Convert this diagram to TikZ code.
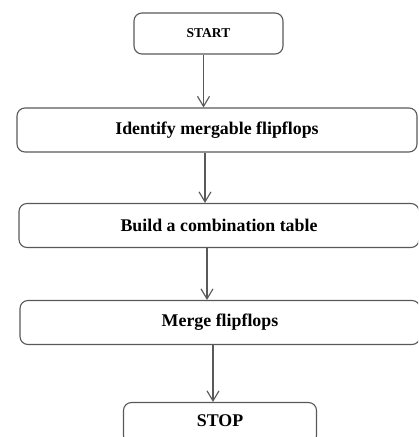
\documentclass[tikz,border=0pt]{standalone}
\usepackage{fontspec}
\setmainfont{Liberation Serif}
\usetikzlibrary{arrows.meta}
\begin{document}
\begin{tikzpicture}[
    node distance=2.4cm,
    terminal/.style={
        rectangle,
        rounded corners=0.2cm,
        draw=black!65,
        line width=0.8pt,
        minimum width=3.725cm,
        minimum height=1.025cm,
        align=center,
        font=\fontsize{9.6}{11}\selectfont\bfseries
    },
    process/.style={
        rectangle,
        rounded corners=0.2cm,
        draw=black!65,
        line width=0.8pt,
        minimum width=10cm,
        minimum height=1.1cm,
        align=center,
        font=\fontsize{12.7}{15}\selectfont\bfseries
    },
    arrow/.style={
        -{Straight Barb[length=0.25cm,width=0.3cm]},
        draw=black!65,
        line width=0.8pt
    }
]
\useasboundingbox (0,0) rectangle (10.45,10.925);
\clip (0,0) rectangle (10.45,10.925);

% Steps of the flow
\node [terminal] (start) at (5.2125,10.0875) {START};
\node [process, below of=start, node distance=2.4125cm, xshift=0.2125cm] (idf) {Identify mergable flipflops};
\node [process, below of=idf, node distance=2.3875cm, xshift=0.05cm] (build) {Build a combination table};
\node [process, below of=build, node distance=2.425cm, xshift=0.025cm] (merge) {Merge flipflops};
\node [terminal, below of=merge, node distance=2.5125cm, minimum width=4.825cm,
       font=\fontsize{12.7}{15}\selectfont\bfseries,
       text height=0.53cm, text depth=0.37cm, inner ysep=0.05cm] (stop) {STOP};

% Flow arrows
\draw [arrow] ([xshift=-0.125cm]start.south) -- ([xshift=-0.125cm]start.south |- idf.north);
\draw [arrow] ([xshift=-0.3cm]idf.south) -- ([xshift=-0.3cm]idf.south |- build.north);
\draw [arrow] ([xshift=-0.3cm]build.south) -- ([xshift=-0.3cm]build.south |- merge.north);
\draw [arrow] ([xshift=-0.175cm]merge.south) -- ([xshift=-0.175cm]merge.south |- stop.north);

\end{tikzpicture}
\end{document}
